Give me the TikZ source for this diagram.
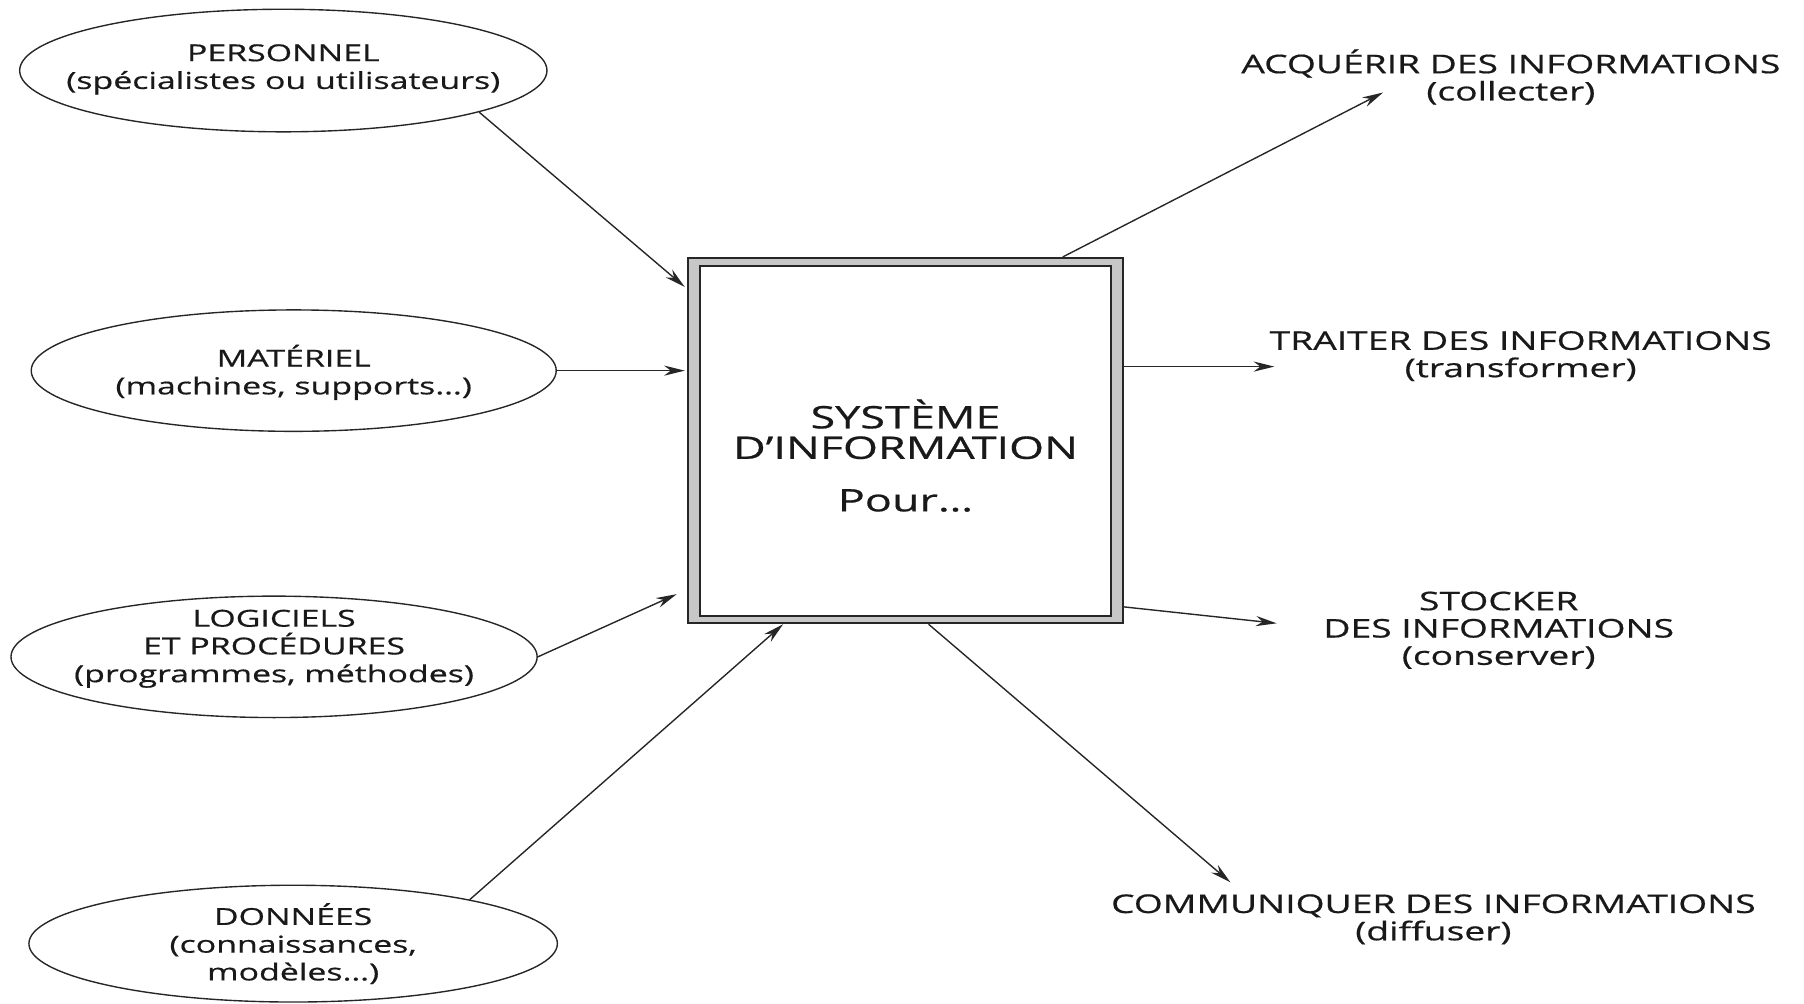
\documentclass[tikz,border=0pt]{standalone}
\usepackage{fontspec}
\setmainfont{Open Sans}[FakeStretch=1.45, FakeBold=0.6]
\usetikzlibrary{shapes.geometric,arrows.meta}

\begin{document}
\begin{tikzpicture}
[every node/.style={inner sep=0pt, align=center, text=black!90},
 oval/.style={ellipse, draw=black!85, line width=0.6pt},
 ovaltext/.style={font=\fontsize{10.1}{12}\selectfont},
 goaltext/.style={font=\fontsize{11.1}{11.8}\selectfont},
 arr/.style={line width=0.6pt, draw=black!85, -{Stealth[length=9pt,width=4.4pt]}}]
\useasboundingbox (0pt,0pt) rectangle (780pt,-433.7pt);
\node (personnel) [oval, minimum width=228pt, minimum height=53pt] at (122.5pt, -30.5pt) {};
\node (personnel-txt) [ovaltext] at (122.5pt, -30pt) {PERSONNEL\\(spécialistes ou utilisateurs)};
\node (materiel) [oval, minimum width=227pt, minimum height=52.5pt] at (127pt, -160.25pt) {};
\node (materiel-txt) [ovaltext] at (127pt, -161pt) {MATÉRIEL\\(machines, supports…)};
\node (logiciels) [oval, minimum width=227.5pt, minimum height=52.5pt] at (118.5pt, -284pt) {};
\node (logiciels-txt) [ovaltext] at (118.5pt, -280.5pt) {LOGICIELS\\ET PROCÉDURES\\(programmes, méthodes)};
\node (donnees) [oval, minimum width=228.5pt, minimum height=50.5pt] at (126.75pt, -408pt) {};
\node (donnees-txt) [ovaltext] at (donnees) {DONNÉES\\(connaissances,\\modèles…)};
\node (si) [rectangle, draw=black!85, fill=black!22, line width=0.8pt, minimum width=188pt, minimum height=158pt] at (391.5pt, -190.5pt) {};
\node (si-inner) [rectangle, draw=black!85, fill=white, line width=0.8pt, minimum width=177.75pt, minimum height=151.5pt] at (391.5pt, -190.75pt) {};
\node (si-txt) [font=\fontsize{13.4}{13.2}\selectfont] at (391.5pt, -197pt) {SYSTÈME\\D’INFORMATION\\[9.5pt]Pour…};
\node (acquerir) [goaltext] at (653.25pt, -33.25pt) {ACQUÉRIR DES INFORMATIONS\\(collecter)};
\node (traiter) [goaltext] at (657.5pt, -154pt) {TRAITER DES INFORMATIONS\\(transformer)};
\node (stocker) [goaltext] at (648pt, -272.5pt) {STOCKER\\DES INFORMATIONS\\(conserver)};
\node (communiquer) [goaltext] at (619.75pt, -397.5pt) {COMMUNIQUER DES INFORMATIONS\\(diffuser)};
\coordinate (acquerir-in) at (598pt, -40pt);
\coordinate (traiter-in) at (551pt, -158.5pt);
\coordinate (stocker-in) at (552pt, -269.5pt);
\coordinate (communiquer-in) at (532pt, -381.5pt);
\draw [arr] (personnel.-12) to ([xshift=-1pt, yshift=-13pt]si.north west);
\draw [arr] (materiel.east) to ([xshift=-1pt]materiel.east -| si.west);
\draw [arr] (logiciels.east) to ([xshift=-4.5pt, yshift=13pt]si.south west);
\draw [arr] (donnees.14) to ([xshift=41.5pt]si.south west);
\draw [arr] ([xshift=68pt]si.north) to (acquerir-in);
\draw [arr] ([yshift=32pt]si.east) to (traiter-in);
\draw [arr] ([yshift=7.5pt]si.south east) to (stocker-in);
\draw [arr] ([xshift=10pt]si.south) to (communiquer-in);
\end{tikzpicture}
\end{document}
